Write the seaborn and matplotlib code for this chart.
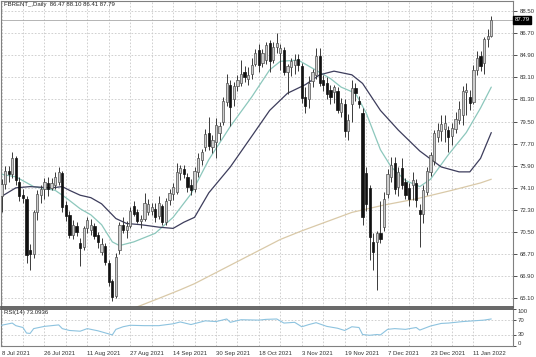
import numpy as np
import pandas as pd
import matplotlib
matplotlib.use("Agg")
import matplotlib.pyplot as plt
import matplotlib.transforms as mtransforms
import seaborn as sns

# daily bars, 8 Jul 2021 .. 18 Jan 2022 (bar number = position in list)
opens = [73.4, 74.4, 75.5, 75.2, 76.5, 74.6, 73.5, 73.2, 69.0, 68.7,
         72.1, 73.5, 74.0, 74.5, 74.1, 74.3, 74.6, 75.3, 72.7, 71.9,
         70.3, 71.0, 69.6, 69.3, 70.8, 70.7, 71.0, 70.3, 68.9, 69.4,
         68.0, 66.5, 65.3, 69.0, 71.1, 70.7, 71.0, 72.6, 72.1, 71.4,
         71.6, 72.1, 72.2, 72.4, 71.8, 72.6, 71.3, 73.1, 73.6, 73.8,
         75.3, 75.6, 75.0, 74.3, 74.0, 75.4, 76.4, 77.4, 78.6, 77.4,
         77.8, 78.6, 79.5, 81.1, 82.5, 81.3, 82.4, 82.6, 83.5, 83.0,
         83.4, 84.2, 85.3, 84.3, 84.5, 85.9, 84.5, 85.6, 85.1, 85.3,
         83.5, 83.9, 84.1, 84.6, 84.0, 81.5, 81.3, 82.8, 83.3, 84.8,
         82.9, 82.6, 82.1, 81.9, 82.0, 80.3, 80.9, 78.7, 80.9, 82.2,
         81.2, 80.2, 75.3, 74.1, 69.7, 69.7, 70.4, 70.9, 73.6, 75.0,
         76.1, 74.2, 75.7, 74.6, 74.1, 74.3, 74.5, 72.3, 72.0, 73.8,
         75.4, 76.3, 78.2, 78.7, 78.9, 78.8, 78.3, 78.9, 79.6, 80.0,
         81.9, 81.5, 81.1, 83.7, 84.8, 84.3, 86.2, 86.47]
highs = [74.8, 75.9, 75.9, 77.0, 76.7, 75.0, 74.0, 73.4, 69.5, 72.3,
         73.9, 74.3, 74.9, 75.0, 74.9, 75.4, 75.8, 75.5, 73.0, 72.2,
         71.5, 71.3, 70.0, 71.0, 71.7, 71.6, 71.2, 70.5, 70.0, 69.6,
         68.2, 66.7, 68.8, 71.3, 71.7, 71.4, 72.5, 73.0, 72.4, 71.9,
         73.7, 73.2, 72.9, 72.9, 73.4, 72.8, 73.3, 74.0, 74.5, 76.1,
         76.0, 76.0, 75.3, 74.8, 75.8, 76.9, 77.3, 78.9, 79.9, 78.4,
         79.8, 79.5, 81.5, 83.4, 82.9, 82.7, 83.3, 84.5, 84.0, 83.9,
         84.7, 85.4, 85.8, 85.4, 86.0, 86.1, 86.0, 86.7, 85.8, 85.6,
         84.2, 84.7, 85.0, 85.0, 84.3, 82.3, 83.2, 83.8, 85.5, 85.5,
         83.3, 83.1, 82.5, 82.5, 82.3, 81.4, 81.3, 80.1, 82.9, 82.6,
         81.6, 80.6, 75.8, 74.3, 70.4, 70.6, 73.0, 73.8, 75.6, 76.6,
         76.6, 75.8, 76.5, 74.9, 74.5, 75.4, 74.8, 72.8, 74.3, 75.8,
         77.0, 78.8, 79.4, 80.0, 80.0, 79.1, 79.4, 80.3, 81.2, 82.4,
         82.6, 82.1, 84.1, 85.2, 85.2, 86.4, 87.0, 88.10]
lows = [72.1, 74.0, 74.6, 74.9, 74.3, 73.0, 72.9, 68.0, 67.4, 68.4,
        71.5, 72.9, 73.2, 73.4, 73.9, 74.0, 74.3, 72.1, 71.4, 70.0,
        69.9, 70.2, 67.7, 69.0, 70.4, 70.3, 69.9, 69.2, 68.6, 67.8,
        66.1, 64.9, 65.1, 68.7, 70.4, 70.0, 70.8, 71.8, 71.2, 70.8,
        71.4, 71.9, 71.9, 71.3, 71.6, 71.1, 71.1, 72.7, 73.1, 73.6,
        74.7, 74.9, 73.8, 73.5, 73.8, 75.0, 76.0, 77.1, 77.2, 76.9,
        76.5, 78.0, 79.2, 80.8, 79.1, 80.8, 82.0, 82.4, 82.7, 82.5,
        83.0, 84.0, 83.5, 83.9, 84.2, 83.5, 84.3, 85.1, 83.7, 83.3,
        81.7, 83.2, 83.4, 83.6, 81.0, 80.2, 80.6, 82.3, 83.0, 82.4,
        82.0, 81.3, 80.9, 81.0, 80.2, 79.9, 78.2, 78.0, 79.5, 81.2,
        80.6, 71.1, 72.2, 68.2, 67.4, 65.8, 69.6, 70.6, 73.3, 74.6,
        73.6, 73.4, 74.0, 73.2, 72.6, 73.1, 72.5, 69.3, 71.2, 73.5,
        75.1, 76.0, 77.8, 77.9, 77.8, 77.0, 77.6, 78.6, 79.3, 79.2,
        80.0, 80.4, 80.9, 83.3, 83.6, 83.4, 85.6, 86.41]
closes = [74.4, 75.5, 75.2, 76.5, 74.7, 73.4, 73.3, 68.6, 68.7, 72.1,
          73.6, 74.0, 74.6, 74.0, 74.5, 75.0, 75.4, 72.5, 71.8, 70.3,
          71.1, 70.5, 69.2, 70.8, 71.5, 71.1, 70.2, 69.7, 69.5, 68.1,
          66.4, 65.2, 68.5, 71.1, 70.7, 71.0, 72.2, 72.0, 71.4, 71.6,
          72.9, 72.8, 72.5, 71.7, 72.9, 71.3, 73.0, 73.7, 74.2, 75.4,
          75.7, 75.2, 74.2, 73.9, 75.5, 76.5, 77.0, 78.5, 77.5, 78.0,
          79.2, 79.1, 81.2, 82.6, 80.7, 82.4, 82.9, 83.4, 83.1, 83.3,
          84.1, 85.1, 84.1, 85.1, 85.7, 84.4, 85.6, 85.9, 85.5, 83.5,
          84.0, 84.4, 84.5, 84.1, 81.4, 80.8, 82.6, 83.5, 84.8, 82.6,
          82.5, 81.7, 81.5, 82.3, 80.4, 81.0, 78.7, 79.6, 82.2, 81.8,
          80.9, 71.7, 72.8, 70.1, 68.9, 70.4, 69.9, 73.2, 75.2, 76.0,
          74.0, 75.4, 74.3, 73.5, 73.2, 74.7, 73.1, 72.0, 73.9, 75.5,
          76.8, 78.6, 78.8, 79.3, 79.4, 78.2, 79.0, 79.7, 80.5, 82.0,
          82.1, 81.0, 83.7, 84.7, 84.0, 86.2, 86.5, 87.79]

date_labels = ["8 Jul 2021", "26 Jul 2021", "11 Aug 2021", "27 Aug 2021",
               "14 Sep 2021", "30 Sep 2021", "18 Oct 2021", "3 Nov 2021",
               "19 Nov 2021", "7 Dec 2021", "23 Dec 2021", "11 Jan 2022"]
price_ticks = [88.50, 86.70, 84.90, 83.10, 81.30, 79.50, 77.70, 75.90,
               74.10, 72.30, 70.50, 68.70, 66.90, 65.10]
rsi_ticks = [100, 70, 30, 0]

# moving averages / rsi at some bars
ma_fast_bar = [0, 4, 9, 15, 18, 22, 25, 28, 31, 33, 37, 43, 48, 53, 58, 64, 70, 75,
               78, 83, 86, 89, 92, 95, 99, 102, 106, 109, 113, 117, 120, 125, 130,
               134, 137]
ma_fast_val = [75.2, 75.0, 74.2, 73.9, 73.3, 72.4, 71.9, 71.1, 69.7, 69.4, 69.7,
               70.4, 71.7, 73.6, 76.4, 79.1, 81.5, 83.7, 84.4, 84.5, 84.0, 83.5,
               83.0, 82.3, 81.8, 80.2, 77.2, 75.8, 74.7, 74.2, 74.8, 76.8, 78.6,
               80.6, 82.3]
ma_slow_bar = [0, 4, 8, 14, 17, 19, 22, 25, 28, 32, 35, 39, 44, 48, 51, 54, 58, 64,
               70, 75, 80, 85, 89, 93, 98, 101, 106, 111, 117, 123, 128, 131, 134,
               137]
ma_slow_val = [73.4, 74.1, 74.2, 74.1, 74.2, 73.9, 73.5, 73.3, 72.8, 71.6, 71.2,
               71.1, 70.9, 70.8, 71.3, 71.7, 73.7, 75.8, 78.3, 80.4, 81.8, 82.5,
               83.3, 83.6, 83.3, 82.6, 80.4, 78.8, 77.1, 75.8, 75.4, 75.4, 76.5,
               78.6]
ma_long_bar = [37, 44, 50, 54, 78, 84, 98, 107, 116, 126, 134, 137]
ma_long_val = [64.3, 65.1, 65.8, 66.3, 69.9, 70.6, 72.1, 72.7, 73.2, 73.9, 74.5,
               74.8]
rsi_bar = [0, 3, 4, 6, 7, 8, 9, 12, 16, 17, 19, 22, 24, 27, 31, 32, 34, 36, 40,
           44, 48, 50, 53, 57, 60, 63, 64, 67, 72, 74, 77, 79, 82, 84, 86, 88, 91,
           94, 96, 98, 100, 101, 103, 105, 106, 108, 110, 113, 116, 117, 120, 123,
           125, 129, 132, 135, 137]
rsi_val = [56, 62, 55, 50, 35, 34, 47, 53, 57, 47, 42, 40, 47, 41, 30, 45, 52,
           56, 55, 55, 60, 65, 58, 68, 66, 73, 64, 71, 70, 72, 73, 62, 64, 52, 58,
           63, 53, 48, 42, 52, 50, 31, 29, 31, 30, 45, 47, 45, 50, 43, 54, 61, 62,
           66, 68, 70, 73.09]

sns.set_style("white")
plt.rcParams["font.family"] = ["Liberation Sans", "DejaVu Sans"]

df = pd.DataFrame({"open": opens, "high": highs, "low": lows, "close": closes})
df["bar"] = np.arange(len(df))
up = df["close"] >= df["open"]

W, H = 536, 357
fig = plt.figure(figsize=(W / 100, H / 100), dpi=100)
ax = fig.add_axes([1 / W, (H - 307) / H, 512 / W, 306 / H])
ax_rsi = fig.add_axes([1 / W, (H - 346) / H, 512 / W, 37 / H], sharex=ax)

grid_kw = dict(color="#c9c9c9", linestyle=(0, (2, 2)), linewidth=0.6)
tick_c = "#333333"
fs = 4.3

# candles
ax.vlines(df["bar"], df["low"], df["high"], color="#3a3a3a", lw=0.7, zorder=3)
ax.bar(df["bar"][up], (df["close"] - df["open"])[up], bottom=df["open"][up],
       width=0.62, color="#cdcdcd", edgecolor="#505050", lw=0.5, zorder=4)
ax.bar(df["bar"][~up], (df["open"] - df["close"])[~up], bottom=df["close"][~up],
       width=0.62, color="#111111", edgecolor="#111111", lw=0.5, zorder=4)

sns.lineplot(x=ma_long_bar, y=ma_long_val, ax=ax, color="#d9c9a8", lw=0.9, zorder=2)
sns.lineplot(x=ma_fast_bar, y=ma_fast_val, ax=ax, color="#8cc7bc", lw=0.9, zorder=2)
sns.lineplot(x=ma_slow_bar, y=ma_slow_val, ax=ax, color="#3d3d5c", lw=0.9, zorder=2)

last = closes[-1]
ax.axhline(last, color="#a8a8a8", lw=0.6, zorder=1)
trans = mtransforms.blended_transform_factory(ax.transAxes, ax.transData)
ax.text(1.003, last, f"{last:.2f}", transform=trans, ha="left", va="center",
        fontsize=fs, color="white",
        bbox=dict(boxstyle="square,pad=0.25", fc="black", ec="black"))
ax.text(0.005, 0.996, "FBRENT_,Daily  86.47 88.10 86.41 87.79", transform=ax.transAxes,
        ha="left", va="top", fontsize=fs, color="#222222")

x0 = -0.14
x1 = x0 + 512 / 3.575
ax.set_xlim(x0, x1)
ax.set_ylim(64.40, 89.31)
ax.yaxis.tick_right()
ax.set_yticks(price_ticks)
ax.set_yticklabels([f"{t:.2f}" for t in price_ticks])
ax.tick_params(axis="y", labelsize=fs, colors=tick_c, length=3, width=0.6, pad=1.5)
ax.tick_params(axis="x", which="both", length=0, labelbottom=False)
ax.set_xticks(np.arange(0, len(df), 12))
ax.set_xticks(np.arange(6, len(df), 12), minor=True)
ax.grid(True, which="both", **grid_kw)
ax.set_xlabel("")
ax.set_ylabel("")

# RSI panel
sns.lineplot(x=rsi_bar, y=rsi_val, ax=ax_rsi, color="#8dc3df", lw=0.8, zorder=3)
for lv in (70, 30):
    ax_rsi.axhline(lv, **grid_kw)
ax_rsi.set_ylim(0, 100)
ax_rsi.yaxis.tick_right()
ax_rsi.set_yticks(rsi_ticks)
ax_rsi.set_yticklabels([str(t) for t in rsi_ticks])
ax_rsi.tick_params(axis="y", labelsize=fs, colors=tick_c, length=2, width=0.6, pad=1.5)
for lab, va in zip(ax_rsi.get_yticklabels(), ["top", "center", "center", "bottom"]):
    lab.set_va(va)
ax_rsi.set_xticks(np.arange(0, len(df), 12))
ax_rsi.set_xticklabels(date_labels, ha="left")
ax_rsi.set_xticks(np.arange(6, len(df), 12), minor=True)
ax_rsi.tick_params(axis="x", which="major", labelsize=fs, colors=tick_c, length=2,
                   width=0.6, pad=1.5)
ax_rsi.tick_params(axis="x", which="minor", length=0)
ax_rsi.grid(True, axis="x", which="both", **grid_kw)
ax_rsi.set_xlim(x0, x1)
ax_rsi.text(0.005, 0.96, "RSI(14) 73.0936", transform=ax_rsi.transAxes,
            ha="left", va="top", fontsize=fs, color="#222222")
ax_rsi.set_xlabel("")
ax_rsi.set_ylabel("")

for a in (ax, ax_rsi):
    for s in a.spines.values():
        s.set_color("#808080")
        s.set_linewidth(0.8)
ax.spines["bottom"].set_color("#5a5a5a")
ax.spines["bottom"].set_linewidth(1.3)
ax_rsi.spines["top"].set_color("#5a5a5a")
ax_rsi.spines["top"].set_linewidth(1.3)

fig.savefig("out.png", dpi=100, facecolor="white")
